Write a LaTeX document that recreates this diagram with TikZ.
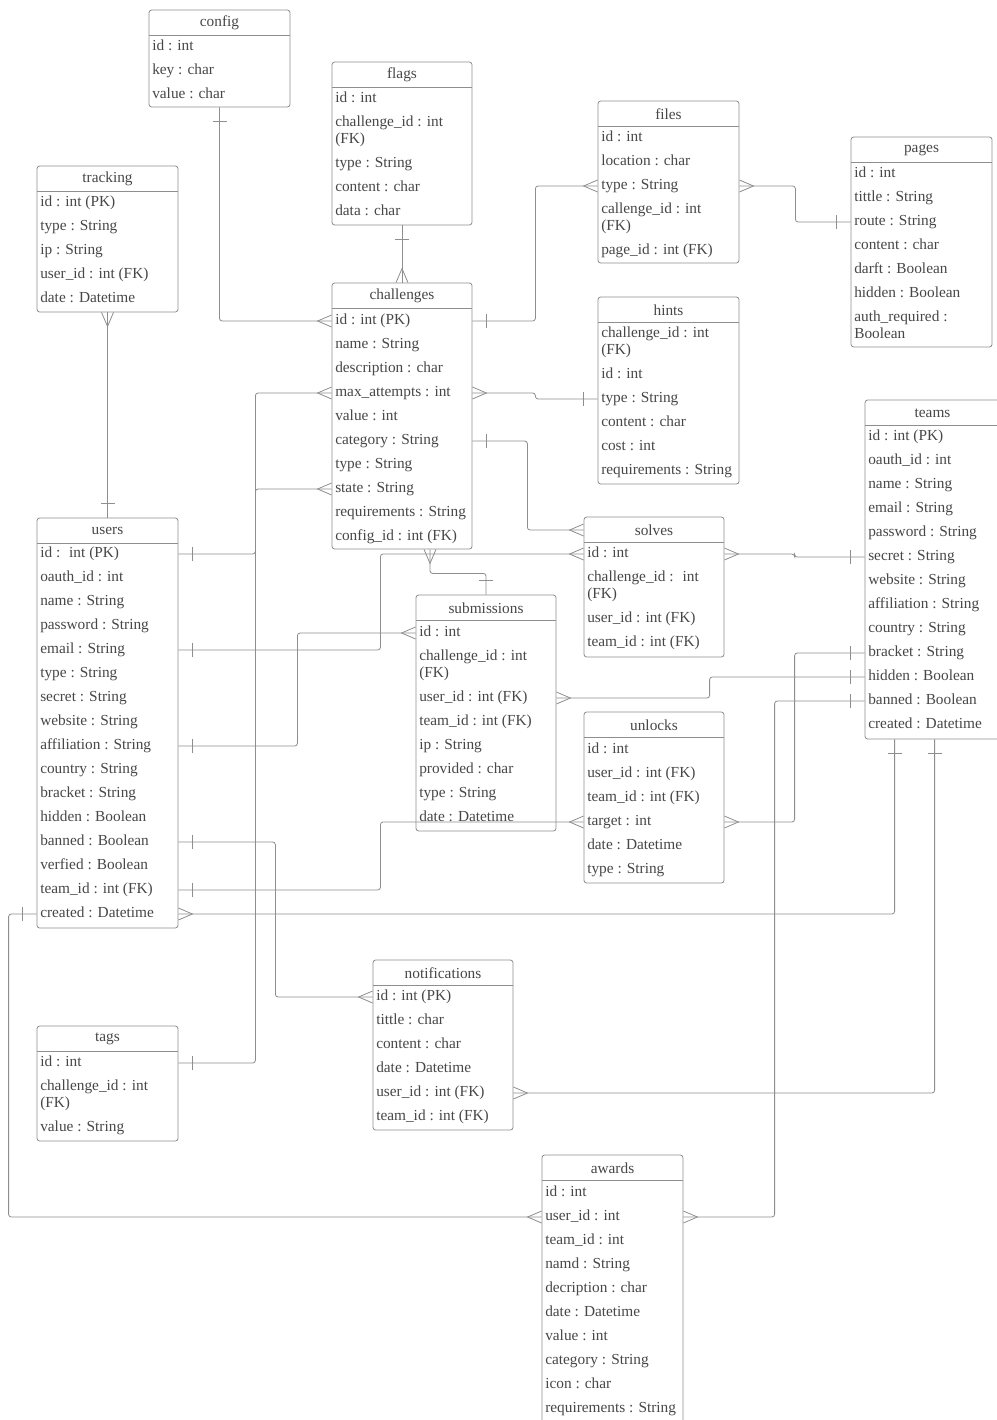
\documentclass[tikz,border=0pt]{standalone}
\usepackage{fontspec}
\setmainfont{Liberation Serif}
\usetikzlibrary{fit}

\definecolor{linegray}{HTML}{8E8E8E}
\definecolor{textgray}{HTML}{474747}

% crow's foot ends: a bar for "one", an open fork for "many"
\pgfdeclarearrow{
  name = erone,
  setup code = {
    \pgfarrowssettipend{0pt}
    \pgfarrowssetlineend{0pt}
    \pgfarrowssetbackend{-11pt}
  },
  drawing code = {
    \pgfpathmoveto{\pgfqpoint{-10.5pt}{5.25pt}}
    \pgfpathlineto{\pgfqpoint{-10.5pt}{-5.25pt}}
    \pgfusepathqstroke
  }
}
\pgfdeclarearrow{
  name = ermany,
  setup code = {
    \pgfarrowssettipend{0pt}
    \pgfarrowssetlineend{0pt}
    \pgfarrowssetbackend{-10.5pt}
  },
  drawing code = {
    \pgfpathmoveto{\pgfqpoint{0pt}{4.5pt}}
    \pgfpathlineto{\pgfqpoint{-10.5pt}{0pt}}
    \pgfpathlineto{\pgfqpoint{0pt}{-4.5pt}}
    \pgfusepathqstroke
  }
}

% table frame: name, left, top, right, bottom, title
\newcommand{\ertable}[6]{%
  \node[tablebox, fit={(#2,#3) (#4,#5)}] (#1) {};
  \node[tabletitle] (#1-t) at ({(#2+#4)/2},#3+13) {#6};
  \draw[headline] (#2,#3+25) -- (#4,#3+25);
}

\begin{document}
\begin{tikzpicture}[x=0.75pt,y=-0.75pt,
    every node/.style={font=\fontsize{11.5}{13}\selectfont, text=textgray},
    tablebox/.style={draw=linegray, line width=0.6pt, rounded corners=2pt, inner sep=0pt},
    headline/.style={draw=linegray, line width=0.6pt},
    tabletitle/.style={inner sep=0pt},
    field/.style={anchor=west, inner sep=0pt, text height=1.5ex, text depth=.3ex},
    conn/.style={draw=linegray, line width=0.6pt, rounded corners=2pt}]
    \useasboundingbox (0,0) rectangle (996,1420);
    \fill[white] (0,0) rectangle (996,1420);

    % tables
    \ertable{config}{149}{10}{290}{107}{config}
    \foreach \y/\t [count=\n] in {47/id : int, 71/key : char, 95/value : char}
      \node[field] (config-\n) at (152,\y) {\t};

    \ertable{flags}{332}{62}{472}{225}{flags}
    \foreach \y/\t [count=\n] in {99/id : int, 123/challenge\_id : int, 140/(FK),
        164/type : String, 188/content : char, 212/data : char}
      \node[field] (flags-\n) at (335,\y) {\t};

    \ertable{chal}{332}{283}{472}{549}{challenges}
    \foreach \y/\t [count=\n] in {321/id : int (PK), 345/name : String,
        369/description : char, 393/max\_attempts : int, 417/value : int,
        441/category : String, 465/type : String, 489/state : String,
        513/requirements : String, 537/config\_id : int (FK)}
      \node[field] (chal-\n) at (335,\y) {\t};

    \ertable{files}{598}{101}{739}{263}{files}
    \foreach \y/\t [count=\n] in {138/id : int, 162/location : char, 186/type : String,
        210/callenge\_id : int, 227/(FK), 251/page\_id : int (FK)}
      \node[field] (files-\n) at (601,\y) {\t};

    \ertable{pages}{851}{137}{992}{347}{pages}
    \foreach \y/\t [count=\n] in {174/id : int, 198/tittle : String, 222/route : String,
        246/content : char, 270/darft : Boolean, 294/hidden : Boolean,
        318/auth\_required :, 335/Boolean}
      \node[field] (pages-\n) at (854,\y) {\t};

    \ertable{hints}{598}{297}{739}{484}{hints}
    \foreach \y/\t [count=\n] in {334/challenge\_id : int, 351/(FK), 375/id : int,
        399/type : String, 423/content : char, 447/cost : int, 471/requirements : String}
      \node[field] (hints-\n) at (601,\y) {\t};

    \ertable{tracking}{37}{166}{178}{312}{tracking}
    \foreach \y/\t [count=\n] in {203/id : int (PK), 227/type : String, 251/ip : String,
        275/user\_id : int (FK), 299/date : Datetime}
      \node[field] (tracking-\n) at (40,\y) {\t};

    \ertable{users}{37}{518}{178}{928}{users}
    \foreach \y/\t [count=\n] in {554/id :~ int (PK), 578/oauth\_id : int, 602/name : String,
        626/password : String, 650/email : String, 674/type : String, 698/secret : String,
        722/website : String, 746/affiliation : String, 770/country : String,
        794/bracket : String, 818/hidden : Boolean, 842/banned : Boolean,
        866/verfied : Boolean, 890/team\_id : int (FK), 914/created : Datetime}
      \node[field] (users-\n) at (40,\y) {\t};

    \ertable{teams}{865}{400}{1000}{739}{teams}
    \foreach \y/\t [count=\n] in {437/id : int (PK), 461/oauth\_id : int, 485/name : String,
        509/email : String, 533/password : String, 557/secret : String,
        581/website : String, 605/affiliation : String, 629/country : String,
        653/bracket : String, 677/hidden : Boolean, 701/banned : Boolean,
        725/created : Datetime}
      \node[field] (teams-\n) at (868,\y) {\t};

    \ertable{solves}{584}{517}{724}{657}{solves}
    \foreach \y/\t [count=\n] in {554/id : int, 578/challenge\_id :~ int, 595/(FK),
        619/user\_id : int (FK), 643/team\_id : int (FK)}
      \node[field] (solves-\n) at (587,\y) {\t};

    \ertable{subm}{416}{595}{556}{831}{submissions}
    \foreach \y/\t [count=\n] in {633/id : int, 657/challenge\_id : int, 674/(FK),
        698/user\_id : int (FK), 722/team\_id : int (FK), 746/ip : String,
        770/provided : char, 794/type : String, 818/date : Datetime}
      \node[field] (subm-\n) at (419,\y) {\t};

    \ertable{unlocks}{584}{712}{724}{883}{unlocks}
    \foreach \y/\t [count=\n] in {750/id : int, 774/user\_id : int (FK), 798/team\_id : int (FK),
        822/target : int, 846/date : Datetime, 870/type : String}
      \node[field] (unlocks-\n) at (587,\y) {\t};

    \ertable{notif}{373}{960}{513}{1130}{notifications}
    \foreach \y/\t [count=\n] in {997/id : int (PK), 1021/tittle : char, 1045/content : char,
        1069/date : Datetime, 1093/user\_id : int (FK), 1117/team\_id : int (FK)}
      \node[field] (notif-\n) at (376,\y) {\t};

    \ertable{tags}{37}{1026}{178}{1141}{tags}
    \foreach \y/\t [count=\n] in {1063/id : int, 1087/challenge\_id : int, 1104/(FK),
        1128/value : String}
      \node[field] (tags-\n) at (40,\y) {\t};

    \ertable{awards}{542}{1155}{683}{1424}{awards}
    \foreach \y/\t [count=\n] in {1193/id : int, 1217/user\_id : int, 1241/team\_id : int,
        1265/namd : String, 1289/decription : char, 1313/date : Datetime,
        1337/value : int, 1361/category : String, 1385/icon : char,
        1409/requirements : String}
      \node[field] (awards-\n) at (545,\y) {\t};

    % relations
    \draw[conn, erone-ermany] (config.south) |- (chal-1 -| chal.west);
    \draw[conn, erone-ermany] (flags.south) -- (chal.north);
    \draw[conn, erone-ermany] (chal-1 -| chal.east) -- ++(63,0) |- (files-3 -| files.west);
    \draw[conn, ermany-erone] (files-3 -| files.east) -- ++(56,0) |- (pages-3 -| pages.west);
    \draw[conn, ermany-erone] (chal-4 -| chal.east) -- ++(63,0) |- (hints-4 -| hints.west);
    \draw[conn, erone-ermany] (chal-6 -| chal.east) -- ++(55,0) |- (solves-t -| solves.west);
    \draw[conn, ermany-erone] ([xshift=21pt]chal.south) -- ++(0,24) -| (subm.north);
    \draw[conn, ermany-erone] (tracking.south) -- (users.north);
    \draw[conn, erone-ermany] (users-1 -| users.east) -- ++(77,0) |- (chal-4 -| chal.west);
    \draw[conn, erone-ermany] (tags-1 -| tags.east) -- ++(77,0) |- (chal-8 -| chal.west);
    \draw[conn, erone-ermany] (users-5 -| users.east) -- ++(202,0) |- (solves-1 -| solves.west);
    \draw[conn, erone-ermany] (users-9 -| users.east) -- ++(119,0) |- (subm-1 -| subm.west);
    \draw[conn, erone-ermany] (users-13 -| users.east) -- ++(97,0) |- (notif-1 -| notif.west);
    \draw[conn, erone-ermany] (users-15 -| users.east) -- ++(202,0) |- (unlocks-4 -| unlocks.west);
    \draw[conn, ermany-erone] (users-16 -| users.east) -| ([xshift=22.5pt]teams.south west);
    \draw[conn, erone-ermany] (users-16 -| users.west) -- ++(-28,0) |- (awards-2 -| awards.west);
    \draw[conn, erone-ermany] ([xshift=52.5pt]teams.south west) |- (notif-5 -| notif.east);
    \draw[conn, erone-ermany] (teams-6 -| teams.west) -- ++(-70,0) |- (solves-1 -| solves.east);
    \draw[conn, erone-ermany] (teams-10 -| teams.west) -- ++(-70,0) |- (unlocks-4 -| unlocks.east);
    \draw[conn, erone-ermany] (teams-11 -| teams.west) -- ++(-155,0) |- (subm-4 -| subm.east);
    \draw[conn, erone-ermany] (teams-12 -| teams.west) -- ++(-90,0) |- (awards-2 -| awards.east);
\end{tikzpicture}
\end{document}
